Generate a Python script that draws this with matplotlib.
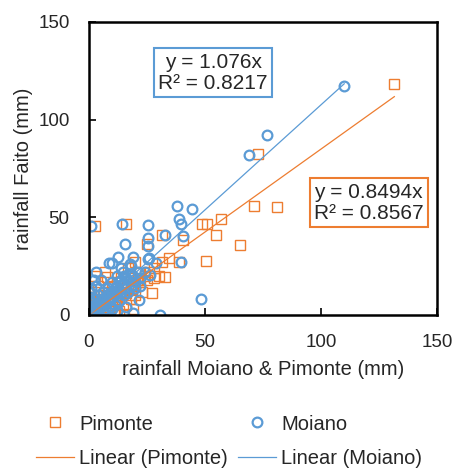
import numpy as np
import matplotlib.pyplot as plt

plt.rcParams['font.family'] = ['Liberation Sans', 'DejaVu Sans']

# -------------------------------
# DATA
# -------------------------------

pim_x = [131.6, 73, 71.1, 80.9, 56.8, 48.8, 50.7, 54.6, 65.1, 31.6, 40.7, 34.5, 31.3,
         50.3, 38.9, 28.2, 32.8, 27, 2.6, 16, 24.8, 2.6, 22, 7.6, 11.2,
         0.5, 1, 2, 3, 4, 5, 6, 7, 8, 9, 10, 11, 12, 13, 14, 15, 16, 17, 18, 19, 20,
         21, 22, 24, 25, 3, 5, 8, 10, 12, 14, 6, 9, 13, 16, 18, 20, 23, 1, 2, 4, 15,
         19, 17, 26, 28, 30, 0.3, 7, 20]
pim_y = [118, 82.4, 55.9, 55.2, 49.1, 46.7, 46.7, 40.7, 35.9, 40.7, 38.5, 29.4, 27.3,
         27.8, 27, 18.8, 19.3, 11.4, 45.6, 46.7, 36.2, 20, 21.7, 19.3, 0,
         0.5, 2, 1, 3, 2, 5, 3, 6, 4, 7, 6, 9, 8, 10, 9, 12, 11, 14, 13, 16, 15,
         18, 17, 20, 18, 8, 10, 12, 15, 17, 19, 0.5, 1, 2, 5, 8, 10, 12, 6, 12, 15, 0.5,
         3, 24, 22, 24, 20, 9, 22, 27]

moi_x = [110, 76.6, 69, 37.8, 44.3, 38.9, 39.7, 32.8, 40.4, 39.5, 48.1, 30.5, 0.9,
         14.1, 25.3, 25.6, 15.5, 25.6, 12.6, 19.1, 8.8, 25.6, 28.9, 26.3, 21.7, 19,
         9.8, 17.7, 26, 14.5,
         0.5, 1, 1.5, 2, 0.3, 1, 2, 3, 3, 4, 4, 5, 5, 6, 6, 7, 7, 8, 8, 9, 9, 10, 10,
         11, 11, 12, 12, 13, 13, 14, 14, 15, 15, 16, 16, 17, 18, 18, 19, 20, 21, 22,
         12, 10, 8, 6, 4, 2, 1, 0.5, 3, 5, 7, 9, 11, 13, 15, 0.2, 0.8, 2.5, 3.5, 1.2,
         6, 4, 17, 20, 22, 24, 14, 18, 3, 10, 12, 16, 1, 2]
moi_y = [117.4, 92.3, 81.7, 55.9, 54.2, 49.1, 46.5, 40.7, 40.2, 27, 8, 0, 45.3,
         46.7, 46.2, 39.3, 36.2, 35.4, 29.6, 29.6, 26.8, 28.5, 26.5, 20.5, 7.7, 1.2,
         26.5, 26.2, 29, 22.2,
         1, 0.5, 2, 1, 3, 4, 5, 2, 4, 3, 6, 4, 7, 5, 8, 6, 9, 7, 10, 8, 11, 9, 12,
         10, 14, 11, 15, 13, 17, 12, 18, 16, 20, 14, 19, 18, 15, 21, 20, 17, 22, 19,
         20, 17, 14, 12, 10, 8, 6, 12, 15, 18, 3, 4, 5, 7, 10, 0.2, 2.5, 0.5, 1.2, 9,
         2, 0.5, 12, 14, 15, 22, 24, 25, 22, 3, 2, 4, 14, 18]

pim_slope = 0.8494
moi_slope = 1.076
pim_r2 = 0.8567
moi_r2 = 0.8217

orange = '#ED7D31'
blue = '#5B9BD5'
txt = '#262626'

# -------------------------------
# FIGURE
# -------------------------------

fig = plt.figure(figsize=(4.54, 4.68), dpi=100)
ax = fig.add_axes([0.196, 0.327, 0.7666, 0.626])

ax.plot(pim_x, pim_y, linestyle='none', marker='s', markersize=6.5,
        markerfacecolor='none', markeredgecolor=orange, markeredgewidth=1.0,
        label='Pimonte')
ax.plot(moi_x, moi_y, linestyle='none', marker='o', markersize=7,
        markerfacecolor='none', markeredgecolor=blue, markeredgewidth=1.6,
        label='Moiano')

# trendlines (through origin)
xp = np.array([min(pim_x), max(pim_x)])
xm = np.array([min(moi_x), max(moi_x)])
ax.plot(xp, pim_slope * xp, color=orange, lw=0.9, label='Linear (Pimonte)')
ax.plot(xm, moi_slope * xm, color=blue, lw=0.9, label='Linear (Moiano)')

ax.text(53.5, 124, f"y = {moi_slope}x\nR² = {moi_r2}", fontsize=15, color=txt,
        ha='center', va='center', linespacing=1.15,
        bbox=dict(boxstyle='square,pad=0.2', fc='white', ec=blue, lw=1.5))
ax.text(120.5, 57.5, f"y = {pim_slope}x\nR² = {pim_r2}", fontsize=15, color=txt,
        ha='center', va='center', linespacing=1.15,
        bbox=dict(boxstyle='square,pad=0.2', fc='white', ec=orange, lw=1.5))

ax.set_xlim(0, 150)
ax.set_ylim(0, 150)
ax.set_xticks([0, 50, 100, 150])
ax.set_yticks([0, 50, 100, 150])
ax.tick_params(direction='in', length=5, width=1.2, labelsize=13.5, colors='black',
               labelcolor=txt, pad=14)
for s in ax.spines.values():
    s.set_linewidth(1.8)
    s.set_color('black')

ax.set_xlabel("rainfall Moiano & Pimonte (mm)", fontsize=14.5, color=txt, labelpad=6)
ax.set_ylabel("rainfall Faito (mm)", fontsize=14.5, color=txt, labelpad=4)

h, l = ax.get_legend_handles_labels()
order = [0, 2, 1, 3]
fig.legend([h[i] for i in order], [l[i] for i in order], ncol=2,
           loc='upper center', bbox_to_anchor=(0.505, 0.153), frameon=False,
           fontsize=14.5, handlelength=1.9, columnspacing=0.5, handletextpad=0.25,
           labelspacing=0.75, labelcolor=txt)

fig.savefig('out.png', dpi=100)
